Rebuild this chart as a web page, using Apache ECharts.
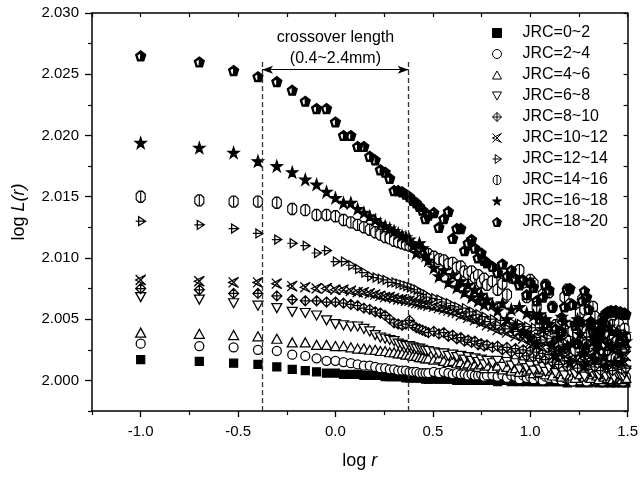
<!DOCTYPE html>
<html>
<head>
<meta charset="utf-8">
<script src="https://cdn.jsdelivr.net/npm/echarts@6/dist/echarts.min.js"></script>
<style>
html,body{margin:0;padding:0;background:#fff;}
#chart{width:641px;height:478px;}
</style>
</head>
<body>
<div id="chart"></div>
<script>
// ---------- data ----------
// sampling distance r (mm); x value of each point is log r
const rMM = [0.1,0.2,0.3,0.4,0.5,0.6,0.7,0.8,0.9,1.0,
  1.1,1.2,1.3,1.4,1.5,1.6,1.7,1.8,1.9,2.0,
  2.1,2.2,2.3,2.4,2.5,2.6,2.7,2.8,2.9,3.0,
  3.2,3.4,3.6,3.8,4.0,4.2,4.4,4.6,4.8,5.0,5.2,5.4,5.6,5.8,6.0,
  6.4,6.8,7.2,7.6,8.0,8.4,8.8,9.2,9.6,10.0,10.4,10.8,11.2,11.6,12.0,
  12.5,13,13.5,14,14.5,15,15.5,16,16.5,17,17.5,18,18.5,19,19.5,20,20.5,21,21.5,22,
  22.5,23,23.5,24,24.5,25,25.5,26,26.5,27,27.5,28,28.5,29,29.5,30,30.5,31];

const seriesNames = ['JRC=0~2','JRC=2~4','JRC=4~6','JRC=6~8','JRC=8~10','JRC=10~12','JRC=12~14','JRC=14~16','JRC=16~18','JRC=18~20'];

const jrc0_2 = [2.0017,2.00155,2.0014,2.0013,2.0011,2.0009,2.0008,2.0007,2.0006,2.0006,
  2.0005,2.0005,2.0005,2.0004,2.0004,2.0004,2.0004,2.0003,2.0003,2.0003,
  2.0003,2.0003,2.0002,2.0002,2.0002,2.0002,2.0002,2.0002,2.0001,2.0001,
  2.0001,2.0001,2.0001,2.0001,2.0001,2.0000,2.0001,2.0000,2.0000,2.0000,2.0000,2.0000,2.0000,2.0000,2.0000,
  2.0000,1.9999,2.0000,2.0000,1.9999,2.0000,1.9999,2.0000,1.9999,2.0000,1.9999,1.9999,2.0000,1.9999,1.9999,
  1.9999,2.0000,1.9999,1.9999,2.0000,1.9999,1.9998,1.9999,2.0000,1.9999,
  1.9999,1.9998,1.9999,2.0000,1.9999,1.9998,1.9999,1.9999,2.0000,1.9999,
  1.9998,1.9999,1.9999,1.9998,1.9999,2.0000,1.9999,1.9998,1.9999,1.9999,
  1.9998,1.9999,2.0000,1.9999,1.9998,1.9999,1.9999,1.9998];
const jrc2_4 = [2.0030,2.0028,2.0027,2.0025,2.0024,2.0021,2.0020,2.0018,2.0016,2.0016,
  2.0015,2.0014,2.0013,2.0012,2.0012,2.0011,2.0010,2.0010,2.0009,2.0009,
  2.0008,2.0008,2.0008,2.0007,2.0007,2.0007,2.0006,2.0006,2.0006,2.0006,
  2.0007,2.0006,2.0007,2.0006,2.0005,2.0006,2.0005,2.0005,2.0004,2.0005,2.0004,2.0004,2.0005,2.0003,2.0004,
  2.0004,2.0003,2.0004,2.0002,2.0004,2.0003,2.0001,2.0004,2.0002,2.0003,2.0001,2.0004,2.0002,2.0000,2.0003,
  2.0002,2.0004,2.0001,2.0003,2.0000,2.0002,2.0005,2.0001,1.9999,2.0003,
  2.0002,2.0000,2.0004,2.0001,1.9999,2.0003,2.0005,2.0002,2.0000,2.0001,
  2.0004,2.0002,1.9999,2.0001,2.0003,2.0006,2.0002,2.0000,2.0001,2.0004,
  2.0003,2.0000,2.0002,2.0005,2.0001,1.9999,2.0002,2.0003];
const jrc4_6 = [2.0039,2.0038,2.0037,2.0036,2.0034,2.0031,2.0031,2.0029,2.0029,2.0028,
  2.0028,2.0027,2.0026,2.0026,2.0025,2.0025,2.0024,2.0024,2.0023,2.0023,
  2.0022,2.0022,2.0021,2.0021,2.0020,2.0020,2.0019,2.0019,2.0018,2.0018,
  2.0017,2.0018,2.0016,2.0015,2.0016,2.0014,2.0015,2.0013,2.0014,2.0012,2.0013,2.0011,2.0013,2.0010,2.0012,
  2.0010,2.0012,2.0009,2.0011,2.0008,2.0010,2.0007,2.0011,2.0008,2.0009,2.0006,2.0010,2.0007,2.0009,2.0005,
  2.0008,2.0004,2.0009,2.0006,2.0003,2.0008,2.0005,2.0010,2.0004,2.0002,
  2.0007,2.0005,2.0009,2.0003,2.0006,2.0008,2.0002,2.0005,2.0007,2.0004,
  2.0001,2.0006,2.0008,2.0003,2.0005,2.0002,2.0007,2.0004,2.0001,2.0006,
  2.0005,2.0002,2.0007,2.0003,2.0001,2.0005,2.0004,2.0002];
const jrc6_8 = [2.0068,2.0066,2.0063,2.0061,2.0059,2.0056,2.0055,2.0053,2.0049,2.0046,
  2.0045,2.0044,2.0044,2.0042,2.0040,2.0037,2.0035,2.0034,2.0033,2.0032,
  2.0030,2.0029,2.0028,2.0028,2.0027,2.0026,2.0026,2.0025,2.0024,2.0024,
  2.0023,2.0022,2.0022,2.0020,2.0021,2.0019,2.0020,2.0017,2.0019,2.0016,2.0018,2.0015,2.0017,2.0013,2.0016,
  2.0014,2.0016,2.0011,2.0015,2.0012,2.0014,2.0009,2.0013,2.0010,2.0012,2.0008,2.0013,2.0009,2.0011,2.0007,
  2.0010,2.0013,2.0006,2.0011,2.0008,2.0004,2.0012,2.0007,2.0010,2.0005,
  2.0009,2.0012,2.0006,2.0003,2.0010,2.0008,2.0011,2.0005,2.0007,2.0010,
  2.0004,2.0009,2.0006,2.0011,2.0003,2.0008,2.0005,2.0010,2.0006,2.0002,
  2.0008,2.0005,2.0009,2.0004,2.0007,2.0003,2.0006,2.0008];
const jrc8_10 = [2.0075,2.0074,2.0071,2.0071,2.0069,2.0066,2.0065,2.0065,2.0064,2.0064,
  2.0063,2.0062,2.0061,2.0059,2.0058,2.0056,2.0055,2.0053,2.0050,2.0047,
  2.0046,2.0045,2.0046,2.0049,2.0045,2.0043,2.0042,2.0041,2.0040,2.0039,
  2.0040,2.0038,2.0039,2.0036,2.0037,2.0034,2.0035,2.0032,2.0033,2.0031,2.0032,2.0029,2.0030,2.0028,2.0029,
  2.0027,2.0028,2.0025,2.0027,2.0023,2.0026,2.0022,2.0025,2.0020,2.0024,2.0019,2.0023,2.0018,2.0022,2.0017,
  2.0021,2.0015,2.0022,2.0013,2.0020,2.0016,2.0011,2.0021,2.0014,2.0019,
  2.0010,2.0018,2.0022,2.0012,2.0017,2.0009,2.0020,2.0015,2.0011,2.0019,
  2.0013,2.0008,2.0018,2.0014,2.0021,2.0010,2.0016,2.0012,2.0008,2.0017,
  2.0013,2.0019,2.0010,2.0015,2.0009,2.0016,2.0012,2.0010];
const jrc10_12 = [2.0082,2.0081,2.0080,2.0080,2.0079,2.0077,2.0076,2.0075,2.0075,2.0074,
  2.0074,2.0073,2.0072,2.0072,2.0071,2.0070,2.0069,2.0068,2.0068,2.0067,
  2.0066,2.0066,2.0065,2.0065,2.0064,2.0063,2.0063,2.0062,2.0062,2.0061,
  2.0060,2.0059,2.0058,2.0057,2.0056,2.0055,2.0053,2.0054,2.0051,2.0052,2.0049,2.0050,2.0047,2.0048,2.0045,
  2.0044,2.0041,2.0043,2.0039,2.0041,2.0036,2.0039,2.0034,2.0037,2.0031,2.0035,2.0029,2.0033,2.0027,2.0031,
  2.0032,2.0026,2.0030,2.0023,2.0031,2.0025,2.0021,2.0029,2.0024,2.0019,
  2.0028,2.0022,2.0026,2.0018,2.0027,2.0023,2.0017,2.0025,2.0020,2.0024,
  2.0016,2.0022,2.0026,2.0019,2.0015,2.0023,2.0020,2.0017,2.0024,2.0018,
  2.0014,2.0021,2.0017,2.0023,2.0016,2.0019,2.0015,2.0020];
const jrc12_14 = [2.0130,2.0127,2.0124,2.0120,2.0115,2.0112,2.0110,2.0104,2.0106,2.0097,
  2.0097,2.0094,2.0091,2.0088,2.0085,2.0084,2.0083,2.0082,2.0080,2.0080,
  2.0079,2.0078,2.0077,2.0076,2.0075,2.0074,2.0072,2.0071,2.0070,2.0068,
  2.0067,2.0066,2.0064,2.0063,2.0061,2.0060,2.0058,2.0059,2.0055,2.0056,2.0053,2.0054,2.0050,2.0052,2.0048,
  2.0050,2.0045,2.0049,2.0042,2.0047,2.0040,2.0046,2.0038,2.0044,2.0036,2.0043,2.0035,2.0041,2.0033,2.0040,
  2.0034,2.0041,2.0031,2.0039,2.0029,2.0037,2.0042,2.0028,2.0036,2.0030,
  2.0038,2.0026,2.0035,2.0040,2.0027,2.0033,2.0024,2.0036,2.0029,2.0034,
  2.0022,2.0031,2.0037,2.0025,2.0032,2.0021,2.0030,2.0035,2.0024,2.0028,
  2.0020,2.0031,2.0026,2.0033,2.0022,2.0029,2.0025,2.0027];
const jrc14_16 = [2.0150,2.0147,2.0146,2.0146,2.0145,2.0140,2.0139,2.0135,2.0135,2.0134,
  2.0131,2.0129,2.0127,2.0125,2.0123,2.0121,2.0119,2.0117,2.0116,2.0114,
  2.0113,2.0112,2.0111,2.0110,2.0109,2.0108,2.0107,2.0105,2.0104,2.0103,
  2.0101,2.0099,2.0098,2.0095,2.0096,2.0092,2.0093,2.0089,2.0087,2.0089,2.0084,2.0086,2.0080,2.0083,2.0078,
  2.0081,2.0074,2.0079,2.0070,2.0084,2.0088,2.0090,2.0080,2.0068,2.0082,2.0079,2.0060,2.0045,2.0070,2.0078,
  2.0072,2.0060,2.0045,2.0030,2.0050,2.0068,2.0074,2.0062,2.0040,2.0025,
  2.0038,2.0055,2.0066,2.0058,2.0040,2.0028,2.0045,2.0060,2.0052,2.0035,
  2.0022,2.0035,2.0050,2.0048,2.0030,2.0020,2.0038,2.0052,2.0045,2.0028,
  2.0018,2.0032,2.0046,2.0040,2.0025,2.0030,2.0042,2.0035];
const jrc16_18 = [2.0194,2.0190,2.0186,2.0179,2.0175,2.0170,2.0164,2.0160,2.0154,2.0149,
  2.0145,2.0145,2.0140,2.0137,2.0134,2.0131,2.0128,2.0126,2.0124,2.0122,
  2.0120,2.0118,2.0117,2.0115,2.0110,2.0104,2.0112,2.0108,2.0102,2.0098,
  2.0092,2.0085,2.0090,2.0080,2.0086,2.0076,2.0081,2.0072,2.0078,2.0068,2.0074,2.0065,2.0070,2.0062,2.0066,
  2.0062,2.0057,2.0063,2.0050,2.0058,2.0045,2.0060,2.0040,2.0055,2.0035,2.0053,2.0030,2.0054,2.0042,2.0050,
  2.0046,2.0030,2.0020,2.0035,2.0052,2.0048,2.0028,2.0015,2.0030,2.0047,
  2.0050,2.0038,2.0022,2.0012,2.0028,2.0045,2.0048,2.0032,2.0018,2.0025,
  2.0040,2.0046,2.0034,2.0020,2.0012,2.0030,2.0044,2.0040,2.0026,2.0015,
  2.0028,2.0040,2.0036,2.0022,2.0015,2.0030,2.0038,2.0032];
const jrc18_20 = [2.0265,2.0260,2.0253,2.0248,2.0244,2.0237,2.0228,2.0222,2.0222,2.0211,
  2.0200,2.0200,2.0191,2.0191,2.0183,2.0180,2.0172,2.0170,2.0165,2.0155,
  2.0155,2.0154,2.0152,2.0150,2.0147,2.0145,2.0142,2.0139,2.0132,2.0135,
  2.0137,2.0125,2.0132,2.0138,2.0116,2.0124,2.0124,2.0106,2.0112,2.0115,2.0108,2.0100,2.0104,2.0098,2.0096,
  2.0093,2.0088,2.0095,2.0085,2.0090,2.0083,2.0078,2.0082,2.0070,2.0080,2.0076,2.0065,2.0050,2.0068,2.0078,
  2.0074,2.0060,2.0042,2.0025,2.0040,2.0060,2.0074,2.0075,2.0062,2.0045,
  2.0030,2.0048,2.0065,2.0073,2.0068,2.0058,2.0048,2.0040,2.0034,2.0031,
  2.0036,2.0042,2.0048,2.0053,2.0055,2.0056,2.0056,2.0057,2.0056,2.0056,
  2.0057,2.0056,2.0055,2.0056,2.0055,2.0054,2.0055,2.0054];

const xMajorTicks = [-1.0,-0.5,0.0,0.5,1.0,1.5];
const xMinorTicks = [-1.25,-0.75,-0.25,0.25,0.75,1.25];
const xAllTicks = [-1.25,-1.0,-0.75,-0.5,-0.25,0.0,0.25,0.5,0.75,1.0,1.25,1.5];
const yMajorTicks = [2.000,2.005,2.010,2.015,2.020,2.025,2.030];
const yMinorTicks = [1.9975,2.0025,2.0075,2.0125,2.0175,2.0225,2.0275];
const yAllTicks = [1.9975,2.000,2.0025,2.005,2.0075,2.010,2.0125,2.015,2.0175,2.020,2.0225,2.025,2.0275,2.030];

const crossTitle = 'crossover length';
const crossRange = '(0.4~2.4mm)';
const crossLeft = -0.377, crossRight = 0.376;

// ---------- styles ----------
const FONT = '"Liberation Sans", Arial, sans-serif';
const seriesValues = [jrc0_2,jrc2_4,jrc4_6,jrc6_8,jrc8_10,jrc10_12,jrc12_14,jrc14_16,jrc16_18,jrc18_20];
const markers = [
  {symbol:'rect', size:[8,8], fill:'#000'},
  {symbol:'circle', size:[9,9], fill:'#fff'},
  {symbol:'path://M5 0 L10 9 L0 9 Z', size:[10,9], fill:'#fff'},
  {symbol:'path://M0 0 L10 0 L5 9 Z', size:[10,9], fill:'#fff'},
  {symbol:'path://M5 0 L10 5 L5 10 L0 5 Z M5 0 L5 10 M0 5 L10 5', size:[10,10], fill:'#fff'},
  {symbol:'path://M0 0 L10 10 M0 10 L10 0 M10 0 L0 5 L10 10', size:[10,10], fill:'#fff'},
  {symbol:'path://M3 0 L10 5 L3 10 Z M0 5 L10 5', size:[10,9], fill:'#fff'},
  {symbol:'path://M3 0 L7 0 L10 3 L10 9 L7 12 L3 12 L0 9 L0 3 Z M5 0 L5 12', size:[9,11], fill:'#fff'},
  {symbol:'path://M5 0 L6.2 3.6 L10 3.6 L6.9 5.9 L8.1 9.5 L5 7.3 L1.9 9.5 L3.1 5.9 L0 3.6 L3.8 3.6 Z', size:[11,11], fill:'#000'},
  {symbol:'path://M5 0 L10 3.8 L8.1 10 L1.9 10 L0 3.8 Z M5 1.6 L1.3 4.3 L2.7 8.8 L5 8.8 Z', size:[10,10], fill:'#000'}
];

const series = seriesNames.map((name, k) => ({
  name: name,
  type: 'scatter',
  xAxisIndex: 0, yAxisIndex: 0,
  symbol: markers[k].symbol,
  symbolSize: markers[k].size,
  itemStyle: {color: markers[k].fill, borderColor: '#000', borderWidth: 1.25, opacity: 1},
  emphasis: {disabled: true},
  animation: false,
  clip: true,
  data: rMM.map((r, i) => [Math.log10(r), seriesValues[k][i]])
}));

series[0].markLine = {
  silent: true, animation: false, symbol: 'none',
  label: {show: false},
  lineStyle: {type: [5, 3], color: '#333', width: 1.3},
  data: [
    [{coord: [crossLeft, 1.9975]}, {coord: [crossLeft, 2.0262]}],
    [{coord: [crossRight, 1.9975]}, {coord: [crossRight, 2.0262]}],
    [{coord: [crossLeft, 2.02537], symbol: 'arrow', symbolSize: [6, 11], lineStyle: {type: 'solid', color: '#000', width: 1.2}},
     {coord: [crossRight, 2.02537], symbol: 'arrow', symbolSize: [6, 11], lineStyle: {type: 'solid', color: '#000', width: 1.2}}]
  ]
};
series[0].markPoint = {
  silent: true, animation: false,
  symbol: 'rect', symbolSize: 1, itemStyle: {color: 'rgba(0,0,0,0)'},
  label: {show: true, position: 'inside', color: '#000', fontSize: 16, fontFamily: FONT},
  data: [
    {coord: [0.0, 2.0280], label: {formatter: crossTitle}},
    {coord: [0.0, 2.02625], label: {formatter: crossRange}}
  ]
};

const axisLineStyle = {color: '#000', width: 1.5};
const labelStyle = {color: '#000', fontSize: 15, fontFamily: FONT};

const option = {
  backgroundColor: '#fff',
  animation: false,
  grid: {left: 92, right: 10, top: 13, bottom: 67, containLabel: false},
  legend: {
    orient: 'vertical', left: 492, top: 23, padding: 0,
    itemWidth: 9, itemHeight: 9, itemGap: 1,
    data: seriesNames,
    selectedMode: false,
    itemStyle: {borderWidth: 1},
    textStyle: {color: '#000', fontSize: 16, fontFamily: FONT, lineHeight: 20, padding: [0, 0, 0, 16]}
  },
  xAxis: [
    {type: 'value', position: 'bottom', min: -1.25, max: 1.5,
     axisLine: {show: true, onZero: false, lineStyle: axisLineStyle},
     axisTick: {show: true, customValues: xMajorTicks, length: 6, lineStyle: {color: '#000', width: 1.3}},
     axisLabel: {show: true, customValues: xMajorTicks, formatter: v => v.toFixed(1), margin: 13, ...labelStyle},
     splitLine: {show: false},
     name: '{a|log }{b|r}', nameLocation: 'middle', nameGap: 41,
     nameTextStyle: {color: '#000', fontSize: 18, fontFamily: FONT,
       rich: {a: {fontSize: 18, fontFamily: FONT, color: '#000'}, b: {fontSize: 18, fontFamily: FONT, fontStyle: 'italic', color: '#000'}}}},
    {type: 'value', position: 'bottom', min: -1.25, max: 1.5,
     axisLine: {show: false, onZero: false},
     axisTick: {show: true, customValues: xMinorTicks, length: 4, lineStyle: {color: '#000', width: 1.2}},
     axisLabel: {show: false}, splitLine: {show: false}},
    {type: 'value', position: 'top', min: -1.25, max: 1.5,
     axisLine: {show: true, onZero: false, lineStyle: axisLineStyle},
     axisTick: {show: true, inside: true, customValues: xAllTicks, length: 4, lineStyle: {color: '#000', width: 1.2}},
     axisLabel: {show: false}, splitLine: {show: false}}
  ],
  yAxis: [
    {type: 'value', position: 'left', min: 1.9975, max: 2.030,
     axisLine: {show: true, onZero: false, lineStyle: axisLineStyle},
     axisTick: {show: true, customValues: yMajorTicks, length: 7, lineStyle: {color: '#000', width: 1.3}},
     axisLabel: {show: true, customValues: yMajorTicks, formatter: v => v.toFixed(3), margin: 13, ...labelStyle},
     splitLine: {show: false},
     name: '{a|log }{b|L(r)}', nameLocation: 'middle', nameGap: 64,
     nameTextStyle: {color: '#000', fontSize: 18, fontFamily: FONT,
       rich: {a: {fontSize: 18, fontFamily: FONT, color: '#000'}, b: {fontSize: 18, fontFamily: FONT, fontStyle: 'italic', color: '#000'}}}},
    {type: 'value', position: 'left', min: 1.9975, max: 2.030,
     axisLine: {show: false, onZero: false},
     axisTick: {show: true, customValues: yMinorTicks, length: 4, lineStyle: {color: '#000', width: 1.2}},
     axisLabel: {show: false}, splitLine: {show: false}},
    {type: 'value', position: 'right', min: 1.9975, max: 2.030,
     axisLine: {show: true, onZero: false, lineStyle: axisLineStyle},
     axisTick: {show: true, inside: true, customValues: yAllTicks, length: 4, lineStyle: {color: '#000', width: 1.2}},
     axisLabel: {show: false}, splitLine: {show: false}}
  ],
  series: series
};

const chart = echarts.init(document.getElementById('chart'), null, {renderer: 'canvas'});
chart.setOption(option);
</script>
</body>
</html>
